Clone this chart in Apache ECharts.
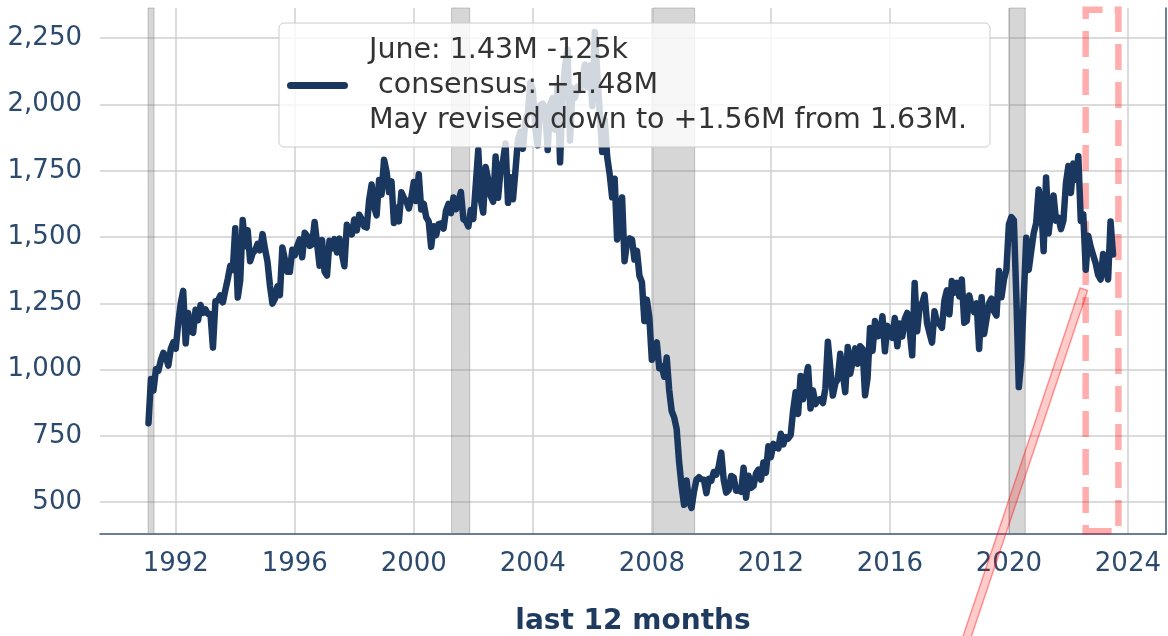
<!DOCTYPE html>
<html><head><meta charset="utf-8">
<script src="https://cdn.jsdelivr.net/npm/echarts@6/dist/echarts.min.js"></script>
<style>html,body{margin:0;padding:0;background:#fff}#c{width:1168px;height:636px}</style>
</head><body><div id="c"></div>
<script>
// Housing starts, thousands (SAAR), monthly, Jan 1991 - Jun 2023
const startYear = 1991;
const y1991 = [798, 965, 921, 1001, 996, 1036, 1063, 1049, 1015, 1079, 1103, 1079];
const y1992 = [1176, 1250, 1297, 1099, 1214, 1145, 1139, 1226, 1186, 1244, 1214, 1227];
const y1993 = [1210, 1210, 1083, 1258, 1260, 1280, 1254, 1300, 1343, 1392, 1376, 1533];
const y1994 = [1272, 1337, 1564, 1465, 1526, 1409, 1439, 1450, 1474, 1450, 1511, 1455];
const y1995 = [1407, 1316, 1249, 1267, 1314, 1281, 1461, 1416, 1369, 1369, 1452, 1431];
const y1996 = [1467, 1491, 1424, 1516, 1504, 1467, 1472, 1557, 1475, 1392, 1489, 1370];
const y1997 = [1355, 1486, 1457, 1492, 1442, 1494, 1437, 1390, 1546, 1520, 1510, 1566];
const y1998 = [1525, 1584, 1567, 1540, 1536, 1641, 1698, 1614, 1582, 1715, 1660, 1792];
const y1999 = [1748, 1670, 1710, 1553, 1611, 1559, 1669, 1648, 1635, 1608, 1648, 1708];
const y2000 = [1636, 1737, 1604, 1626, 1575, 1559, 1463, 1541, 1507, 1549, 1551, 1532];
const y2001 = [1600, 1625, 1590, 1649, 1605, 1636, 1670, 1567, 1562, 1540, 1602, 1568];
const y2002 = [1698, 1829, 1642, 1592, 1764, 1717, 1655, 1633, 1804, 1648, 1753, 1788];
const y2003 = [1853, 1629, 1726, 1643, 1751, 1867, 1897, 1833, 1939, 1967, 2083, 2057];
const y2004 = [1911, 1846, 1998, 2003, 1981, 1828, 2002, 2024, 1905, 2072, 1782, 2042];
const y2005 = [2144, 2207, 1864, 2061, 2025, 2068, 2054, 2095, 2151, 2065, 2147, 1994];
const y2006 = [2273, 2119, 1969, 1821, 1942, 1802, 1737, 1650, 1720, 1491, 1570, 1649];
const y2007 = [1409, 1480, 1495, 1490, 1415, 1448, 1354, 1330, 1183, 1264, 1197, 1037];
const y2008 = [1084, 1103, 1005, 1013, 973, 1046, 923, 844, 820, 777, 652, 560];
const y2009 = [490, 582, 505, 478, 540, 585, 594, 586, 585, 534, 588, 581];
const y2010 = [614, 604, 636, 687, 583, 536, 546, 599, 594, 543, 545, 539];
const y2011 = [630, 517, 600, 554, 561, 608, 623, 585, 650, 611, 711, 670];
const y2012 = [720, 708, 703, 758, 718, 746, 740, 754, 847, 915, 833, 976];
const y2013 = [888, 962, 1010, 853, 921, 870, 885, 889, 874, 930, 1105, 1003];
const y2014 = [902, 948, 964, 1060, 987, 915, 1085, 984, 1033, 1080, 1022, 1088];
const y2015 = [1078, 903, 968, 1157, 1070, 1183, 1126, 1130, 1201, 1069, 1165, 1131];
const y2016 = [1120, 1195, 1088, 1174, 1125, 1191, 1214, 1145, 1054, 1327, 1145, 1237];
const y2017 = [1249, 1282, 1175, 1137, 1102, 1220, 1178, 1172, 1158, 1261, 1299, 1209];
const y2018 = [1334, 1290, 1327, 1276, 1340, 1177, 1184, 1280, 1237, 1217, 1250, 1078];
const y2019 = [1273, 1134, 1192, 1250, 1268, 1220, 1204, 1372, 1273, 1340, 1378, 1548];
const y2020 = [1575, 1564, 1276, 934, 1038, 1273, 1497, 1376, 1447, 1514, 1553, 1679];
const y2021 = [1625, 1447, 1725, 1514, 1594, 1657, 1562, 1573, 1530, 1563, 1703, 1768];
const y2022 = [1666, 1777, 1716, 1805, 1561, 1586, 1377, 1505, 1463, 1432, 1401, 1357];
const y2023 = [1340, 1436, 1380, 1340, 1559, 1434];
const yearArrays = [y1991,y1992,y1993,y1994,y1995,y1996,y1997,y1998,y1999,y2000,y2001,y2002,y2003,y2004,y2005,y2006,y2007,y2008,y2009,y2010,y2011,y2012,y2013,y2014,y2015,y2016,y2017,y2018,y2019,y2020,y2021,y2022,y2023];

const xTicks = [1992, 1996, 2000, 2004, 2008, 2012, 2016, 2020, 2024];
const yTicks = [500, 750, 1000, 1250, 1500, 1750, 2000, 2250];
const recessions = [[1991.07, 1991.27], [2001.27, 2001.88], [2008.04, 2009.44], [2020.02, 2020.55]];
const last12Box = [[2022.58, 390], [2023.68, 2357]];
const arrowLine = [[2018.34, -92, 2022.52, 1303]];
const legendLabel = 'June: 1.43M -125k\n consensus: +1.48M\nMay revised down to +1.56M from 1.63M.';
const xLabelText = 'last 12 months';

// month-end date positions
const seriesData = [];
yearArrays.forEach((arr, i) => {
  arr.forEach((v, m) => seriesData.push([startYear + i + (m + 1) / 12, v]));
});

const FONT = 'DejaVu Sans';
const tickColor = '#2c4a6e';
const chart = echarts.init(document.getElementById('c'), null, {renderer: 'canvas'});
chart.setOption({
  animation: false,
  backgroundColor: '#ffffff',
  grid: {left: 100, right: 2, top: 8, bottom: 102, containLabel: false, outerBoundsMode: 'none'},
  graphic: [{
    type: 'rect', z: 15, silent: true,
    shape: {x: 279, y: 23, width: 711, height: 124, r: 5},
    style: {fill: 'rgba(255,255,255,0.8)', stroke: '#cccccc', lineWidth: 1}
  }],
  xAxis: {
    type: 'value', min: 1989.454, max: 2025.28,
    axisLine: {show: true, lineStyle: {color: '#3b5478', width: 1.5}},
    axisTick: {show: false, customValues: xTicks},
    axisLabel: {customValues: xTicks, formatter: v => String(v), color: tickColor, fontFamily: FONT, fontSize: 26, margin: 17},
    splitLine: {show: true, lineStyle: {color: '#cfcfcf', width: 1.5}},
    name: xLabelText, nameLocation: 'middle', nameGap: 74,
    nameTextStyle: {color: '#1f3a5f', fontFamily: FONT, fontSize: 28, fontWeight: 'bold'}
  },
  yAxis: [{
    type: 'value', min: 380, max: 2364,
    axisLine: {show: false},
    axisTick: {show: false, customValues: yTicks},
    axisLabel: {customValues: yTicks, color: tickColor, fontFamily: FONT, fontSize: 26, margin: 18},
    splitLine: {show: true, lineStyle: {color: '#cfcfcf', width: 1.5}}
  }, {
    type: 'value', min: 380, max: 2364, position: 'right',
    axisLine: {show: true, lineStyle: {color: '#3b5478', width: 1.5}},
    axisTick: {show: false}, axisLabel: {show: false}, splitLine: {show: false}
  }],
  legend: {
    show: true, data: [legendLabel], left: 287, top: 28, orient: 'vertical', z: 20,
    selectedMode: false,
    icon: 'path://M3.5,0 L57.5,0 A3.5,3.5 0 0 1 57.5,7 L3.5,7 A3.5,3.5 0 0 1 3.5,0 Z',
    itemWidth: 61, itemHeight: 7,
    padding: 0,
    textStyle: {color: '#333333', fontFamily: FONT, fontSize: 28.5, lineHeight: 35, padding: [0, 0, 10, 16]}
  },
  series: [
    {
      name: 'recessions', type: 'line', data: seriesData, z: 1, silent: true,
      lineStyle: {opacity: 0}, symbol: 'none',
      markArea: {
        silent: true,
        itemStyle: {color: 'rgba(128,128,128,0.32)', borderColor: 'rgba(110,110,110,0.35)', borderWidth: 1},
        data: recessions.map(r => [{xAxis: r[0]}, {xAxis: r[1]}])
      }
    },
    {
      name: legendLabel, type: 'line', data: seriesData, z: 3,
      showSymbol: false, symbol: 'none',
      lineStyle: {color: '#1a375f', width: 6.5, join: 'round', cap: 'round'},
      itemStyle: {color: '#1a375f'}
    },
    {
      name: 'box', type: 'line', data: [], z: 4, silent: true,
      markArea: {
        silent: true,
        itemStyle: {color: 'rgba(0,0,0,0)', borderColor: 'rgba(255,0,0,0.32)', borderWidth: 6.5, borderType: [26, 12]},
        data: [[{xAxis: last12Box[0][0], yAxis: last12Box[0][1]}, {xAxis: last12Box[1][0], yAxis: last12Box[1][1]}]]
      }
    },
    {
      name: 'arrow', type: 'custom', z: 5, silent: true, clip: false,
      encode: {x: [0, 2], y: [1, 3]},
      data: arrowLine,
      renderItem: function (params, api) {
        const p0 = api.coord([api.value(0), api.value(1)]);
        const p1 = api.coord([api.value(2), api.value(3)]);
        const dx = p1[0] - p0[0], dy = p1[1] - p0[1];
        const len = Math.sqrt(dx * dx + dy * dy);
        const hw = 4;
        const nx = -dy / len * hw, ny = dx / len * hw;
        return {
          type: 'polygon',
          shape: {points: [[p0[0] + nx, p0[1] + ny], [p1[0] + nx, p1[1] + ny], [p1[0] - nx, p1[1] - ny], [p0[0] - nx, p0[1] - ny]]},
          style: {fill: 'rgba(255,0,0,0.2)', stroke: 'rgba(255,0,0,0.38)', lineWidth: 1.5}
        };
      }
    }
  ]
});
</script></body></html>
